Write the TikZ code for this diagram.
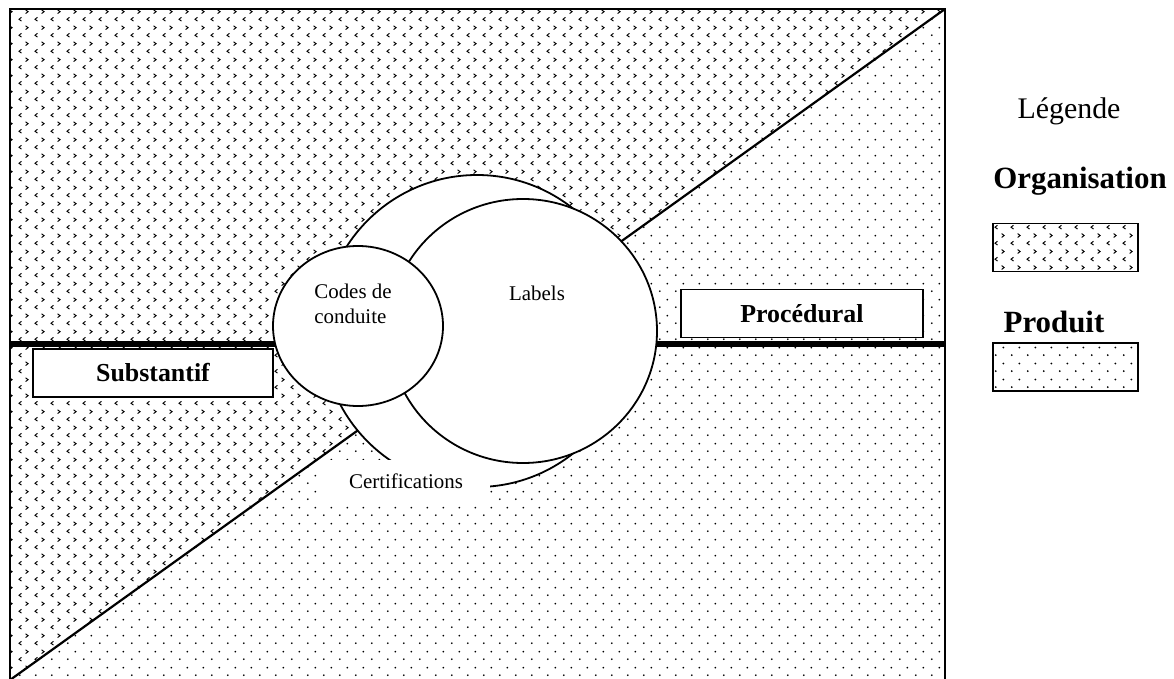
\documentclass[tikz,border=0pt]{standalone}
\usepackage{fontspec}
\setmainfont{Liberation Serif}
\usetikzlibrary{patterns,shapes.geometric}
\pgfdeclarepatternformonly{organisation}{\pgfqpoint{0bp}{0bp}}{\pgfqpoint{16bp}{16bp}}{\pgfqpoint{16bp}{16bp}}{%
\pgfsetlinewidth{1bp}%
\pgfpathmoveto{\pgfqpoint{5.8bp}{6bp}}\pgfpathlineto{\pgfqpoint{3.2bp}{4bp}}\pgfpathlineto{\pgfqpoint{5.8bp}{2bp}}%
\pgfpathmoveto{\pgfqpoint{10.2bp}{14bp}}\pgfpathlineto{\pgfqpoint{12.8bp}{12bp}}\pgfpathlineto{\pgfqpoint{10.2bp}{10bp}}%
\pgfusepath{stroke}}
\pgfdeclarepatternformonly{produit}{\pgfqpoint{0bp}{0bp}}{\pgfqpoint{16bp}{16bp}}{\pgfqpoint{16bp}{16bp}}{%
\pgfpathcircle{\pgfqpoint{4bp}{4bp}}{1.05bp}\pgfpathcircle{\pgfqpoint{12bp}{12bp}}{1.05bp}\pgfusepath{fill}}

\begin{document}
\begin{tikzpicture}[x=1bp,y=-1bp,
  trait/.style={line width=2.2bp},
  axe/.style={line width=6bp},
  boite/.style={draw,line width=1.6bp,fill=white,minimum width=240bp,minimum height=48bp,font=\fontsize{26}{30}\selectfont\bfseries},
  bulle/.style={draw,ellipse,line width=1.8bp,fill=white,inner sep=0pt},
  texte/.style={font=\fontsize{21}{25}\selectfont,inner sep=0pt},
  legende/.style={draw,line width=1.5bp,minimum width=145bp,minimum height=48bp},
  titre/.style={font=\fontsize{31}{36}\selectfont\bfseries,inner sep=0pt}]
\useasboundingbox (0,0) rectangle (1174,679);
\coordinate (hg) at (10,9); \coordinate (hd) at (945,9); \coordinate (bg) at (10,680); \coordinate (bd) at (945,680);
\fill[pattern=organisation] (hg) -- (hd) -- (bg) -- cycle;
\fill[pattern=produit] (hd) -- (bd) -- (bg) -- cycle;
\draw[trait] (bg) -- (hd);
\draw[trait] (bg) -- (hg) -- (hd) -- (bd) -- cycle;
\coordinate (axeg) at (10,344); \coordinate (axed) at (945,344);
\draw[axe] (axeg) -- (axed);
\node[boite] (subst) at (153,373) {Substantif};
\node[boite,minimum width=242bp] (proc) at (802,313.5) {Procédural};

\node[bulle,minimum width=310bp,minimum height=312bp] (certif) at (477,331) {};
\node[bulle,minimum width=268bp,minimum height=264bp] (labels) at (523,331) {};
\node[bulle,minimum width=170bp,minimum height=160bp] (codes) at (358,326) {};
\node[texte,fill=white,minimum width=168bp,minimum height=43bp] (certiftxt) at (406,481) {Certifications};
\node[texte,align=left] (codestxt) at (353,304) {Codes de\\conduite};
\node[texte] (labelstxt) at (537,293) {Labels};

\node[font=\fontsize{30}{36}\selectfont,inner sep=0pt] (leg) at (1069,111) {Légende};
\node[titre] (orgtxt) at (1080,181) {Organisation};
\node[legende,pattern=organisation] (orgbox) at (1065.5,247.5) {};
\node[titre] (prodtxt) at (1054,322) {Produit};
\node[legende,pattern=produit] (prodbox) at (1065.5,367) {};
\end{tikzpicture}
\end{document}
